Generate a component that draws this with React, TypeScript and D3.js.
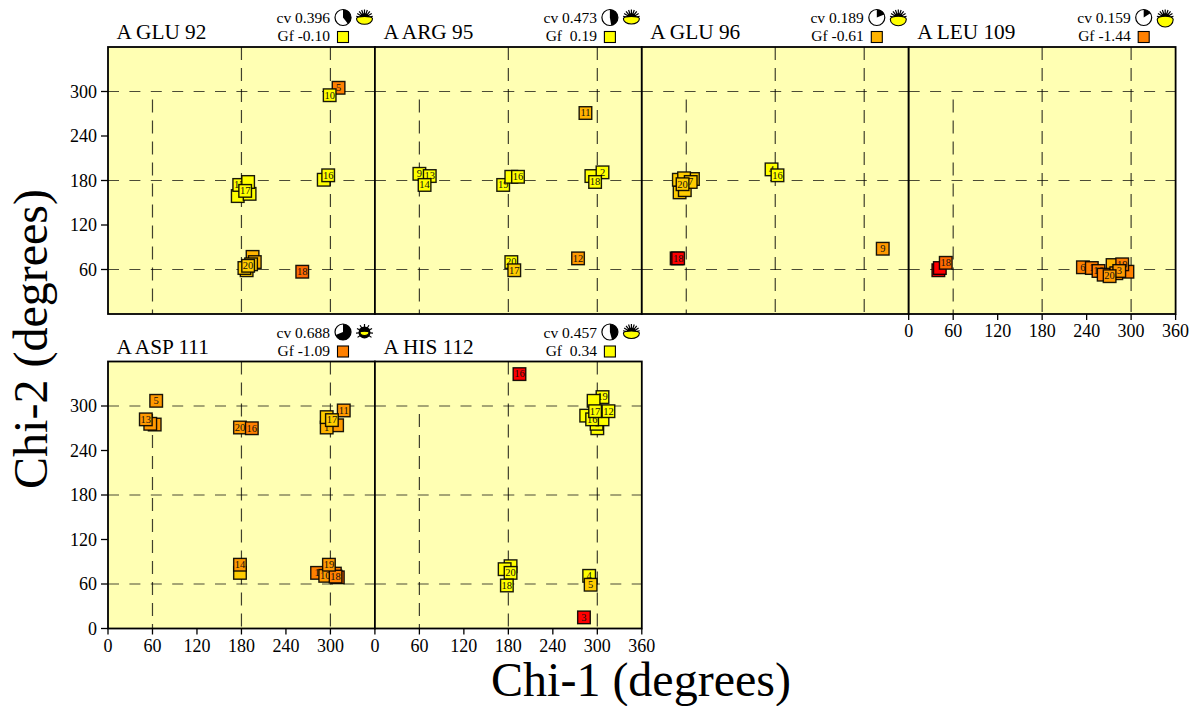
import React from "react";
import * as d3 from "d3";

type Pt = [string, number, number, number];

const glu92: Pt[] = [
  ["5", 311, 305, -1.4], ["10", 299, 295, 0.1],
  ["", 291, 181, 0.1], ["16", 297, 187, 0.1],
  ["", 175, 159, 0.1], ["", 191, 162, 0.1], ["15", 177, 174, 0.1], ["", 189, 178, 0.1], ["17", 185, 166, 0.1],
  ["", 195, 77, -0.7], ["", 198, 70, -0.7], ["", 187, 59, -0.3], ["", 193, 67, -0.3], ["", 184, 62, -0.3], ["20", 189, 65, -0.3],
  ["18", 262, 57, -1.8],
];
const arg95: Pt[] = [
  ["11", 284, 271, -0.7], ["9", 60, 189, 0.1], ["13", 74, 186, 0.1], ["14", 67, 174, 0.1],
  ["19", 173, 174, 0.1], ["", 184, 185, 0.1], ["16", 193, 185, 0.1],
  ["", 292, 186, 0.1], ["2", 307, 191, 0.1], ["18", 297, 178, 0.1],
  ["20", 184, 70, 0.1], ["17", 188, 59, -0.3], ["12", 274, 75, -0.9],
];
const glu96: Pt[] = [
  ["4", 175, 195, 0.1], ["16", 183, 187, 0.1], ["9", 325, 88, -1.0],
  ["", 47, 75, -4], ["18", 49, 75, -4],
  ["", 51, 164, -0.4], ["", 58, 167, -0.4], ["", 50, 181, -0.3], ["", 69, 182, -0.3], ["", 57, 183, -0.3], ["7", 66, 178, -0.3], ["20", 55, 175, -0.4],
];
const leu109: Pt[] = [
  ["", 40, 59, -4], ["", 42, 62, -4], ["18", 50, 69, -1.8],
  ["", 295, 57, -1.4], ["6", 235, 63, -1.4], ["", 275, 66, -0.6], ["19", 288, 67, -1.1], ["1", 247, 62, -1.2],
  ["16", 256, 58, -1.2], ["", 263, 53, -1.1], ["", 280, 55, -1], ["3", 284, 58, -1], ["20", 271, 51, -0.9],
];
const asp111: Pt[] = [
  ["5", 65, 307, -0.9], ["", 63, 275, -1], ["", 57, 276, -1], ["13", 51, 282, -1],
  ["20", 178, 271, -1], ["16", 194, 270, -1.2],
  ["11", 318, 294, -1], ["", 309, 274, -1], ["1", 295, 271, -0.8], ["", 295, 285, -0.4], ["17", 302, 281, -0.3],
  ["", 178, 75, -0.5], ["14", 178, 86, -1],
  ["1", 282, 75, -1.1], ["", 310, 69, -1.8], ["", 306, 74, -1.1], ["10", 293, 71, -1], ["18", 307, 70, -1.1], ["19", 298, 86, -1],
];
const his112: Pt[] = [
  ["16", 195, 343, -4], ["19", 307, 312, 0.1], ["", 295, 307, 0.1],
  ["", 300, 270, 0.1], ["", 299, 276, 0.1], ["", 307, 282, 0.1], ["", 285, 287, 0.1], ["16", 293, 282, 0.1],
  ["12", 315, 293, 0.1], ["17", 297, 293, 0.1],
  ["", 183, 84, 0.1], ["", 175, 80, 0.1], ["20", 183, 75, 0.1], ["18", 178, 58, 0.1],
  ["4", 289, 71, 0.1], ["5", 291, 59, -0.3], ["3", 282, 15, -4],
];

const titles = ["A GLU 92", "A ARG 95", "A GLU 96", "A LEU 109", "A ASP 111", "A HIS 112"];
const cvValues = [0.396, 0.473, 0.189, 0.159, 0.688, 0.457];
const gfValues = [-0.1, 0.19, -0.61, -1.44, -1.09, 0.34];
const eyeOpen = [0.55, 0.5, 0.8, 1, 0.2, 0.5];
const panelPoints = [glu92, arg95, glu96, leu109, asp111, his112];
const gridValues = [60, 180, 300];
const xTicks = [0, 60, 120, 180, 240, 300, 360];
const yTicks = [0, 60, 120, 180, 240, 300];

const W = 1194, H = 706;
const serif = "'Liberation Serif', serif";
const panelW = 266.9, panelH = 267;
const left = 108;
const tops = [47, 361.5];

const gfColor = d3.scaleThreshold<number, string>()
  .domain([-3, -1.5, -1.05, -0.8, -0.5, -0.2, 0])
  .range(["#ff0000", "#ff6a00", "#ff8000", "#ff9900", "#ffb300", "#ffcc00", "#ffff00", "#ffff00"]);

const sx = d3.scaleLinear().domain([0, 360]).range([0, panelW]);
const sy = d3.scaleLinear().domain([0, 360]).range([panelH, 0]);

function Eye({ open }: { open: number }) {
  const n = 9;
  const span = open > 0.3 ? 78 : 125;
  const rays = d3.range(n).map((k) => -span + (2 * span * k) / (n - 1));
  const rx = open > 0.3 ? 8 : 4.5;
  const ry = open > 0.3 ? 3 + 4.5 * open : 3;
  const lift = open > 0.3 ? 1 + 1.5 * open : 1;
  return (
    <g>
      {rays.map((a) => {
        const r = (a * Math.PI) / 180;
        return <line key={a} x1={0} y1={1} x2={Math.sin(r) * 8.5} y2={1 - Math.cos(r) * 8.5} stroke="#000" strokeWidth={1.2} />;
      })}
      <circle cx={0} cy={1} r={open > 0.3 ? 4.8 : 6} fill="#000" />
      <path d={`M${-rx},${lift} A${rx},${ry} 0 0 0 ${rx},${lift} A${rx},${ry * 0.45} 0 0 0 ${-rx},${lift} Z`} fill="#ffff00" stroke="#000" strokeWidth={1.1} />
    </g>
  );
}

function Panel({ i }: { i: number }) {
  const col = i % 4;
  const row = i < 4 ? 0 : 1;
  const x0 = left + col * panelW;
  const y0 = tops[row];
  const pie = d3.arc()({ innerRadius: 0, outerRadius: 8, startAngle: 0, endAngle: cvValues[i] * 2 * Math.PI }) as string;
  const showX = i >= 3;
  const showY = col === 0;
  const gf = gfValues[i];
  const fmt = (v: number) => (v < 0 ? v.toFixed(2) : "\u00a0" + v.toFixed(2));
  const lastInRow = i === 3 || i === 5;
  return (
    <g transform={`translate(${x0},${y0})`}>
      <rect width={panelW} height={panelH} fill="#ffffb3" />
      {gridValues.map((v) => (
        <g key={v}>
          {v === 60 ? (
            <line x1={sx(v)} x2={sx(v)} y1={sy(300)} y2={panelH} stroke="#000" strokeOpacity={0.75} strokeWidth={1.2} strokeDasharray="13 8" strokeDashoffset={13} />
          ) : (
            <line x1={sx(v)} x2={sx(v)} y1={0} y2={panelH} stroke="#000" strokeOpacity={0.75} strokeWidth={1.2} strokeDasharray="13 8" />
          )}
          <line x1={0} x2={panelW} y1={sy(v)} y2={sy(v)} stroke="#000" strokeOpacity={0.7} strokeWidth={1.2} strokeDasharray="11 10.4" />
        </g>
      ))}
      {panelPoints[i].map(([label, a, b, g], k) => (
        <g key={k} transform={`translate(${sx(a)},${sy(b)})`}>
          <rect x={-6.3} y={-6.3} width={12.6} height={12.6} fill={gfColor(g)} stroke="#000" strokeWidth={1.4} strokeOpacity={0.9} />
          <text y={3.3} textAnchor="middle" fontSize={10.5} fontFamily={serif} fill="#111">{label}</text>
        </g>
      ))}
      <rect width={panelW} height={panelH} fill="none" stroke="#000" strokeWidth={1.8} />
      <text x={8.5} y={-8} fontSize={21.3} fontFamily={serif} fill="#000">{titles[i]}</text>
      <text x={222} y={-24} textAnchor="end" fontSize={15.5} fontFamily={serif} fill="#000">{`cv ${cvValues[i].toFixed(3)}`}</text>
      <text x={222} y={-6} textAnchor="end" fontSize={15.5} fontFamily={serif} fill="#000">{`Gf ${fmt(gf)}`}</text>
      <g transform={`translate(235,-29.5)`}>
        <circle r={8} fill="#fff" stroke="#000" strokeWidth={1.2} />
        <path d={pie} fill="#000" />
      </g>
      <g transform={`translate(256.5,-30)`}>
        <Eye open={eyeOpen[i]} />
      </g>
      <rect x={229.5} y={-15.5} width={11} height={11} fill={gfColor(gf)} stroke="#000" strokeWidth={1.1} />
      {showY && yTicks.filter((t) => row === 1 || t > 0).map((t) => (
        <g key={t} transform={`translate(0,${sy(t)})`}>
          <line x1={-7} x2={0} stroke="#000" strokeWidth={1.3} />
          <text x={-11} y={6} textAnchor="end" fontSize={18} fontFamily={serif} fill="#000">{t}</text>
        </g>
      ))}
      {showX && xTicks.filter((t) => t < 360 || lastInRow).map((t) => (
        <g key={t} transform={`translate(${sx(t)},${panelH})`}>
          <line y1={0} y2={6} stroke="#000" strokeWidth={1.3} />
          <text y={23} textAnchor="middle" fontSize={18} fontFamily={serif} fill="#000">{t}</text>
        </g>
      ))}
    </g>
  );
}

export default function App() {
  return (
    <svg width={W} height={H} viewBox={`0 0 ${W} ${H}`} style={{ position: "fixed", left: 0, top: 0, background: "#fff" }}>
      {titles.map((_, i) => <Panel key={i} i={i} />)}
      <text x={641} y={695.5} textAnchor="middle" fontSize={48} fontFamily={serif} fill="#000">Chi-1 (degrees)</text>
      <text transform="translate(47,339) rotate(-90)" textAnchor="middle" fontSize={48} fontFamily={serif} fill="#000">Chi-2 (degrees)</text>
    </svg>
  );
}
